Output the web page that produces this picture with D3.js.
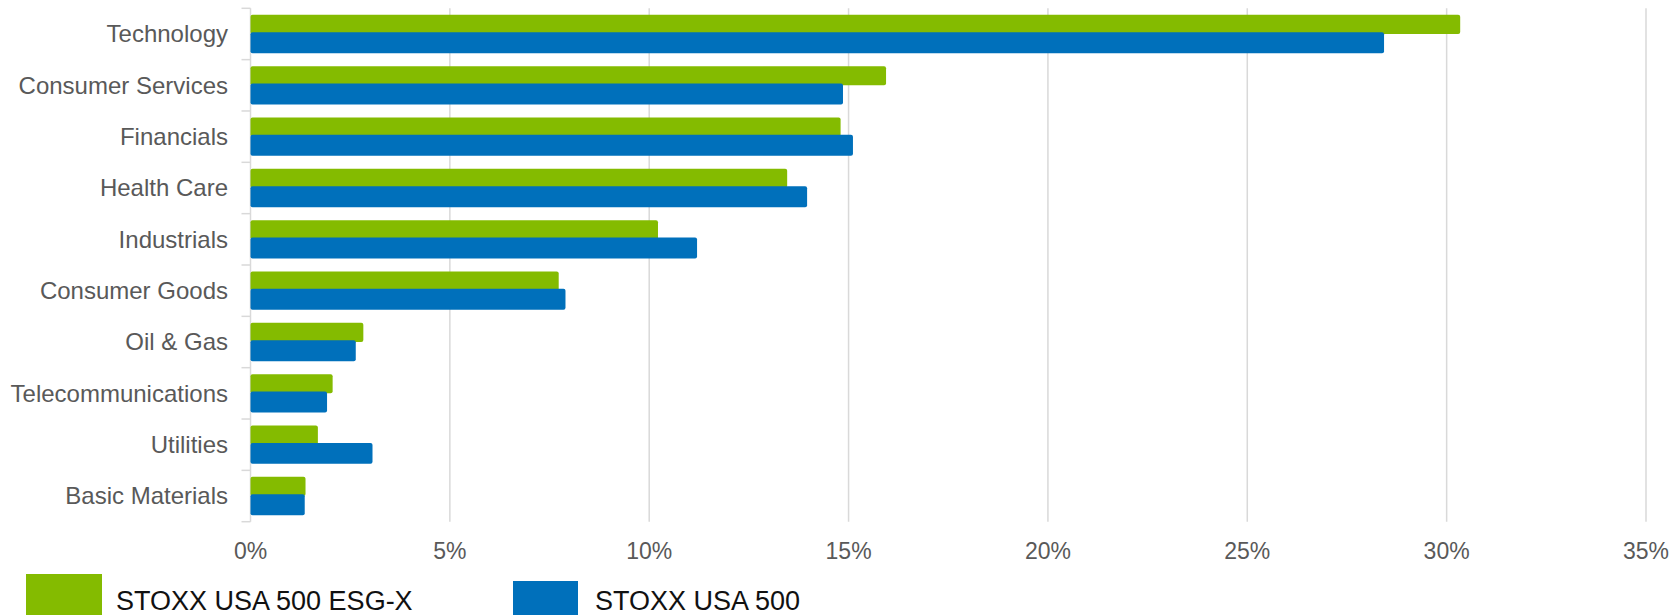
<!DOCTYPE html>
<html>
<head>
<meta charset="utf-8">
<script src="https://cdn.jsdelivr.net/npm/d3@7"></script>
<style>
  body { margin: 0; background: #fff; }
  svg { display: block; font-family: "Liberation Sans", Arial, sans-serif; }
</style>
</head>
<body>
<div id="chart"></div>
<script>
// dati (peso % per settore)
var categories = ["Technology", "Consumer Services", "Financials", "Health Care", "Industrials",
                  "Consumer Goods", "Oil & Gas", "Telecommunications", "Utilities", "Basic Materials"];
var seriesNames = ["STOXX USA 500 ESG-X", "STOXX USA 500"];
var esgValues = [30.34, 15.94, 14.80, 13.46, 10.22, 7.73, 2.83, 2.06, 1.69, 1.38];
var usaValues = [28.43, 14.86, 15.11, 13.96, 11.20, 7.90, 2.64, 1.92, 3.06, 1.36];
var xTicks = [0, 5, 10, 15, 20, 25, 30, 35];

var width = 1676;
var height = 615;
var colors = ["#84bb00", "#0070bb"];

// attenzione: "top" e' gia' window.top, quindi nomi diversi
var plotLeft = 250.5, plotRight = 1646, plotTop = 8.3, plotBottom = 521.7;

var svg = d3.select("#chart")
            .append("svg")
            .attr("width", width)
            .attr("height", height);

var x = d3.scaleLinear().domain([0, 35]).range([plotLeft, plotRight]);
var y = d3.scaleBand().domain(categories).range([plotTop, plotBottom]);
var y1 = d3.scaleBand().domain(seriesNames).range([0, y.bandwidth()]).paddingOuter(0.34);

// griglia verticale
svg.append("g")
   .selectAll("line")
   .data(xTicks.slice(1))
   .enter()
   .append("line")
   .attr("x1", function(d) { return x(d); })
   .attr("x2", function(d) { return x(d); })
   .attr("y1", plotTop)
   .attr("y2", plotBottom)
   .attr("stroke", "#d9d9d9")
   .attr("stroke-width", 1.5);

// asse verticale con le tacche tra le categorie
var gAxis = svg.append("g")
               .attr("stroke", "#d9d9d9")
               .attr("stroke-width", 1.5);

gAxis.append("line")
     .attr("x1", x(0)).attr("x2", x(0))
     .attr("y1", plotTop).attr("y2", plotBottom);

var bounds = categories.map(function(c) { return y(c); }).concat([plotBottom]);
gAxis.selectAll("line.tick")
     .data(bounds)
     .enter()
     .append("line")
     .attr("class", "tick")
     .attr("x1", x(0) - 9)
     .attr("x2", x(0))
     .attr("y1", function(d) { return d; })
     .attr("y2", function(d) { return d; });

// barre
var rows = categories.map(function(c, i) {
    return { cat: c, values: [esgValues[i], usaValues[i]] };
});

var gRow = svg.append("g")
              .selectAll("g")
              .data(rows)
              .enter()
              .append("g")
              .attr("transform", function(d) { return "translate(0," + y(d.cat) + ")"; });

gRow.selectAll("rect")
    .data(function(d) { return d.values.map(function(v, j) { return { s: seriesNames[j], v: v, j: j }; }); })
    .enter()
    .append("rect")
    .attr("x", x(0))
    .attr("y", function(d) { return y1(d.s) - (d.j == 1 ? 1.8 : 0); })
    .attr("width", function(d) { return x(d.v) - x(0); })
    .attr("height", function(d) { return y1.bandwidth() + (d.j == 1 ? 1.8 : 0); })
    .attr("rx", 2)
    .attr("fill", function(d) { return colors[d.j]; });

// etichette categorie
svg.append("g")
   .selectAll("text")
   .data(categories)
   .enter()
   .append("text")
   .attr("x", 228)
   .attr("y", function(d) { return y(d) + y.bandwidth() / 2; })
   .attr("dy", "0.35em")
   .attr("text-anchor", "end")
   .attr("font-size", "24px")
   .attr("fill", "#595959")
   .text(function(d) { return d; });

// etichette asse x
svg.append("g")
   .selectAll("text")
   .data(xTicks)
   .enter()
   .append("text")
   .attr("x", function(d) { return x(d); })
   .attr("y", 559)
   .attr("text-anchor", "middle")
   .attr("font-size", "23px")
   .attr("fill", "#595959")
   .text(function(d) { return d + "%"; });

// legenda
var legend = [
    { name: seriesNames[0], color: colors[0], bx: 26, by: 574, bw: 76, tx: 116 },
    { name: seriesNames[1], color: colors[1], bx: 513, by: 581, bw: 65, tx: 595 }
];

var gLeg = svg.append("g")
              .selectAll("g")
              .data(legend)
              .enter()
              .append("g");

gLeg.append("rect")
    .attr("x", function(d) { return d.bx; })
    .attr("y", function(d) { return d.by; })
    .attr("width", function(d) { return d.bw; })
    .attr("height", function(d) { return height - d.by + 5; })
    .attr("fill", function(d) { return d.color; });

gLeg.append("text")
    .attr("x", function(d) { return d.tx; })
    .attr("y", 610)
    .attr("font-size", "27px")
    .attr("fill", "#111")
    .text(function(d) { return d.name; });
</script>
</body>
</html>
